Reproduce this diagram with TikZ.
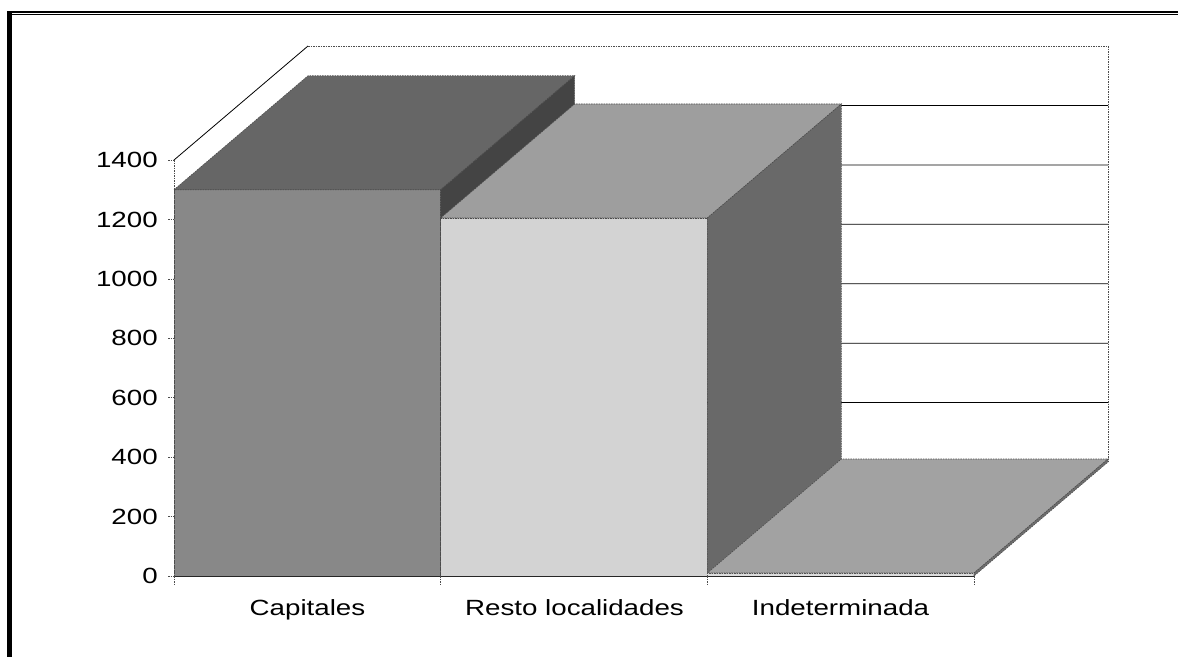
\documentclass[tikz,border=0pt]{standalone}
\usepackage{fontspec}
\setmainfont{Liberation Sans}
\definecolor{capfront}{HTML}{888888}
\definecolor{captop}{HTML}{666666}
\definecolor{capside}{HTML}{444444}
\definecolor{resfront}{HTML}{D3D3D3}
\definecolor{restop}{HTML}{9E9E9E}
\definecolor{resside}{HTML}{696969}
\definecolor{indfront}{HTML}{DDDDDD}
\definecolor{indtop}{HTML}{A2A2A2}
\definecolor{indside}{HTML}{6E6E6E}
% one column: left x, value, front, top and side colour
\newcommand{\drawcol}[5]{%
  \pgfmathsetmacro{\ytop}{576-#2*0.2971}
  \pgfmathsetmacro{\xend}{#1+266.67}
  \filldraw[edge, fill=#3] (#1,576) rectangle (\xend,\ytop);
  \filldraw[edge, fill=#4] (#1,\ytop) -- ++(134,-114) -- ++(266.67,0) -- (\xend,\ytop) -- cycle;
  \filldraw[edge, fill=#5] (\xend,\ytop) -- ++(134,-114) -- ++(0,{#2*0.2971}) -- (\xend,576) -- cycle;
}
\begin{document}
\begin{tikzpicture}[x=1pt,y=-1pt,
    lbl/.style={font=\fontsize{22}{26}\selectfont, inner sep=0pt, xscale=1.26},
    edge/.style={draw=black!70, line width=0.6pt, dash pattern=on 1.5pt off 1pt},
    gridline/.style={draw=black, line width=0.8pt}]
        \useasboundingbox (0,0) rectangle (1178,657);
        % frame
        \draw [line width=2pt] (7,12) -- (1178,12);
        \draw [line width=1pt] (12,14.5) -- (1178,14.5);
        \draw [line width=5pt] (9.5,11) -- (9.5,657);
        % walls and gridlines
        \foreach \v in {200,400,...,1200} {
            \draw [gridline] (174,{576-\v*0.2971}) -- (308,{462-\v*0.2971}) -- (1108,{462-\v*0.2971});
        }
        \draw [gridline] (174,160) -- (308,46);
        \draw [edge] (308,46) -- (1108,46) -- (1108,462);
        % columns
        \drawcol{174}{1300}{capfront}{captop}{capside}
        \drawcol{440.67}{1205}{resfront}{restop}{resside}
        \drawcol{707.33}{10}{indfront}{indtop}{indside}
        % axes
        \draw [edge] (174,160) -- (174,576);
        \draw [black!85, line width=0.8pt] (174,576) -- (974,576);
        \foreach \v in {0,200,...,1400} {
            \draw [edge] (168,{576-\v*0.2971}) -- (174,{576-\v*0.2971});
            \node [lbl, anchor=east] (y\v) at (158,{576-\v*0.2971}) {\v};
        }
        \foreach \x in {174,440.67,707.33,974} {
            \draw [edge] (\x,576) -- (\x,584);
        }
        \node [lbl, anchor=base] (capitales) at (307.5,615.5) {Capitales};
        \node [lbl, anchor=base] (resto) at (574.5,615.5) {Resto localidades};
        \node [lbl, anchor=base] (indet) at (840.5,615.5) {Indeterminada};
    \end{tikzpicture}
\end{document}
